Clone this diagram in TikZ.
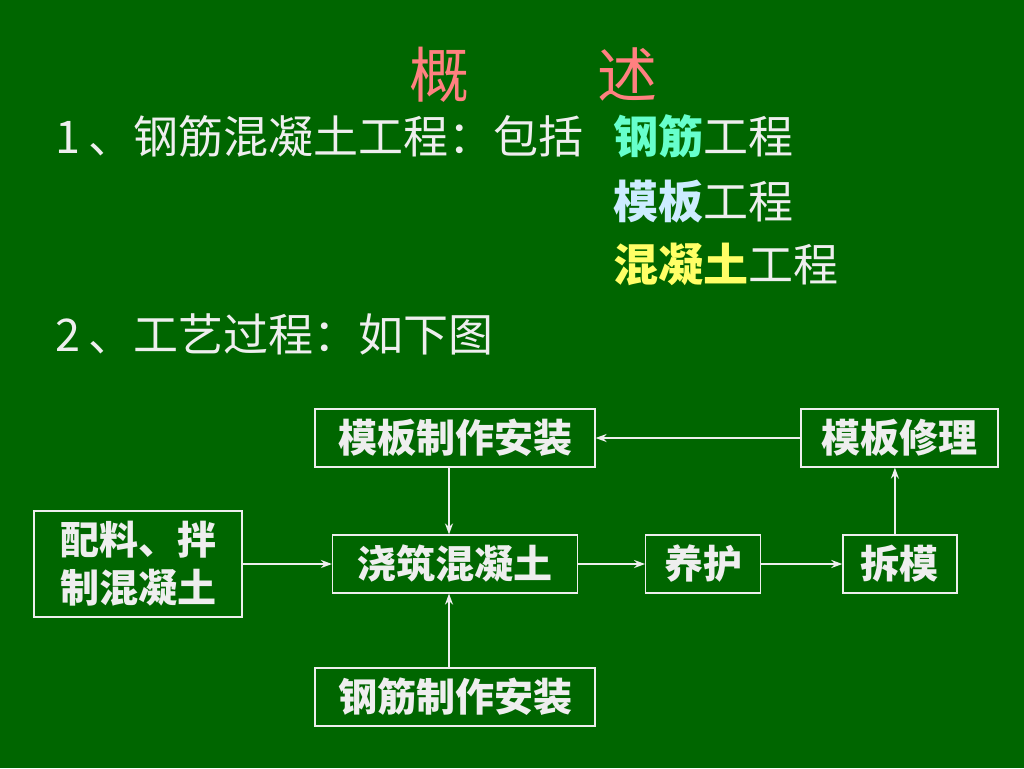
\documentclass[tikz,border=0pt]{standalone}
\usepackage{fontspec}
\setmainfont{Noto Sans CJK SC}
\usetikzlibrary{positioning,arrows.meta}

\definecolor{board}{RGB}{0,102,0}
\definecolor{chalk}{RGB}{238,238,238}
\definecolor{titlered}{RGB}{255,128,128}
\definecolor{rebar}{RGB}{102,255,204}
\definecolor{form}{RGB}{204,236,255}
\definecolor{conc}{RGB}{255,255,102}

\begin{document}
\begin{tikzpicture}[x=1pt,y=-1pt,
    box/.style={draw=chalk,line width=1.2pt,text=chalk,inner sep=0pt,
                minimum height=58pt,align=center,
                font=\fontsize{39}{48}\selectfont\bfseries},
    txt/.style={anchor=base west,inner sep=0pt,text=chalk,
                font=\fontsize{45}{48}\selectfont},
    conn/.style={draw=chalk,line width=1.8pt,-{Stealth[length=11pt,width=8pt]}}]
    % \draw[help lines] (0,0) grid (1024,768);
    \fill[board] (0,0) rectangle (1024,768);
    \useasboundingbox (0,0) rectangle (1024,768);

    \node[txt,text=titlered,font=\fontsize{60}{64}\selectfont] (title) at (409,97) {概\hspace{128pt}述};
    \node[txt] (l1) at (55,153)  {1\hspace{8pt}、钢筋混凝土工程：包括};
    \node[txt] (c1) at (613,153) {{\bfseries\color{rebar}钢筋}工程};
    \node[txt] (c2) at (613,218) {{\bfseries\color{form}模板}工程};
    \node[txt] (c3) at (613,281) {{\bfseries\color{conc}混凝土}工程};
    \node[txt] (l2) at (55,351)  {2\hspace{8pt}、工艺过程：如下图};

    \node[box,minimum width=245pt] (jz) at (455,564) {浇筑混凝土};
    \node[box,minimum width=280pt] (mbzz) at (455,438) {模板制作安装};
    \node[box,minimum width=280pt] (gjzz) at (455,697) {钢筋制作安装};
    \node[box,minimum width=208pt,minimum height=106pt] (pl) at (138,564) {配料、拌\\制混凝土};
    \node[box,minimum width=115pt] (yh) [right=67pt of jz] {养护};
    \node[box,minimum width=114pt] (cm) [right=81pt of yh] {拆模};
    \node[box,minimum width=197pt] (mbxl) at (899.5,438) {模板修理};

    \draw[conn] (pl) -- (jz);
    \draw[conn] ([xshift=-6pt]mbzz.south) -- ([xshift=-6pt]jz.north);
    \draw[conn] ([xshift=-6pt]gjzz.north) -- ([xshift=-6pt]jz.south);
    \draw[conn] (jz) -- (yh);
    \draw[conn] (yh) -- (cm);
    \draw[conn] ([xshift=-5pt]cm.north) -- ([xshift=-5pt]cm.north |- mbxl.south);
    \draw[conn] (mbxl) -- (mbzz);
\end{tikzpicture}
\end{document}
